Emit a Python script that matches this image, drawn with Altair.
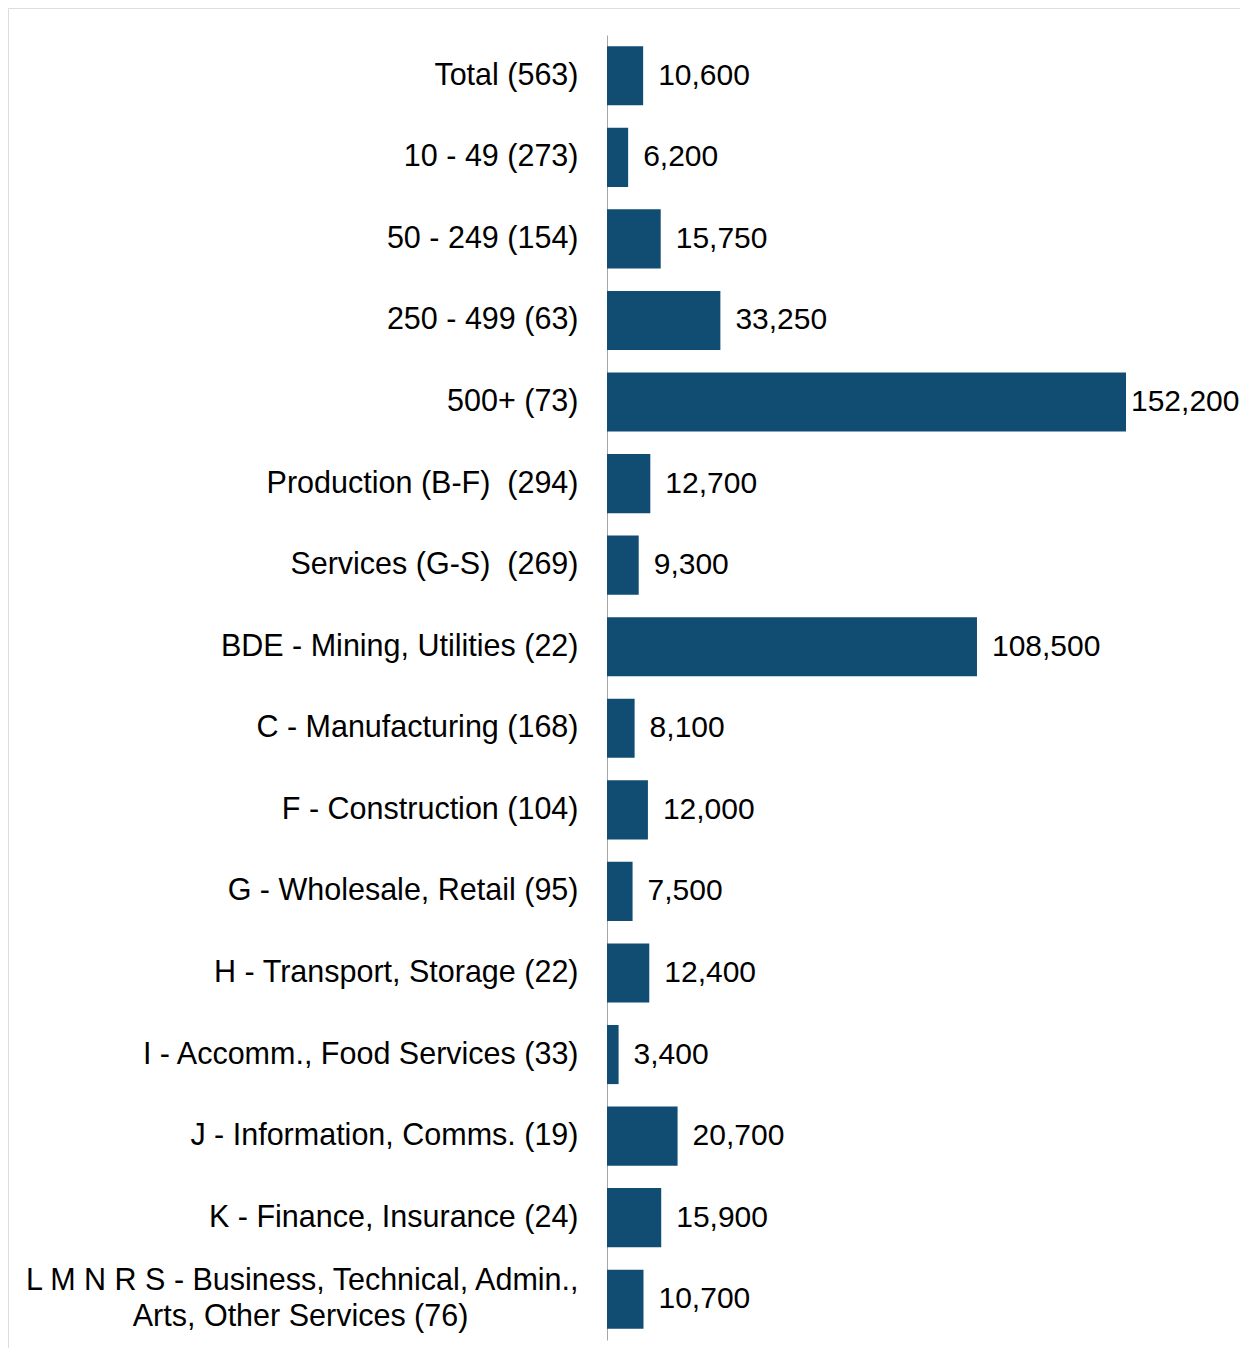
import altair as alt
import pandas as pd

NB = "\u00a0"
ZW = "\u200b"
categories = [
    "Total (563)",
    "10 - 49 (273)",
    "50 - 249 (154)",
    "250 - 499 (63)",
    "500+ (73)",
    "Production (B-F)" + NB + " (294)",
    "Services (G-S)" + NB + " (269)",
    "BDE - Mining, Utilities (22)",
    "C - Manufacturing (168)",
    "F - Construction (104)",
    "G - Wholesale, Retail (95)",
    "H - Transport, Storage (22)",
    "I - Accomm., Food Services (33)",
    "J - Information, Comms. (19)",
    "K - Finance, Insurance (24)",
    "L M N R S - Business, Technical, Admin.,|Arts, Other Services (76)" + NB * 13 + ZW,
]
values = [10600, 6200, 15750, 33250, 152200, 12700, 9300, 108500,
          8100, 12000, 7500, 12400, 3400, 20700, 15900, 10700]

df = pd.DataFrame({"cat": categories, "value": values})

FONT = "Liberation Sans"
W, H = 1232, 1340

x = alt.X("value:Q", axis=None,
          scale=alt.Scale(domain=[0, 152200], range=[599, 1118], nice=False, zero=True))
y = alt.Y("cat:N", sort=categories, title=None,
          scale=alt.Scale(range=[27, 1332], paddingInner=0.275, paddingOuter=0.1375),
          axis=alt.Axis(orient="left", offset=-599, domain=True, domainColor="#A6A6A6",
                        domainWidth=1, ticks=False, grid=False, labelPadding=29,
                        labelFont=FONT, labelFontSize=30.5, labelColor="#000000",
                        labelLimit=800, labelLineHeight=36,
                        labelOffset={"condition": {"test": "indexof(datum.label, '|') >= 0",
                                                   "value": -18},
                                     "value": 0},
                        labelExpr="split(datum.label, '|')"))

base = alt.Chart(df)
bars = base.mark_bar(color="#114D72").encode(x=x, y=y)
labels = base.transform_filter("datum.value < 150000").mark_text(
    align="left", baseline="middle", dx=15, font=FONT, fontSize=30, color="#000000"
).encode(x=x, y=y, text=alt.Text("value:Q", format=","))
labels_max = base.transform_filter("datum.value >= 150000").mark_text(
    align="left", baseline="middle", dx=5, font=FONT, fontSize=30, color="#000000"
).encode(x=x, y=y, text=alt.Text("value:Q", format=","))

chart = alt.layer(bars, labels, labels_max).properties(
    width=W, height=H, padding=0,
    autosize=alt.AutoSizeParams(type="none"),
).configure_view(stroke="#BFBFBF", strokeWidth=2).configure(background="white")

chart.save("out.html", embed_options={"renderer": "svg", "actions": False})
